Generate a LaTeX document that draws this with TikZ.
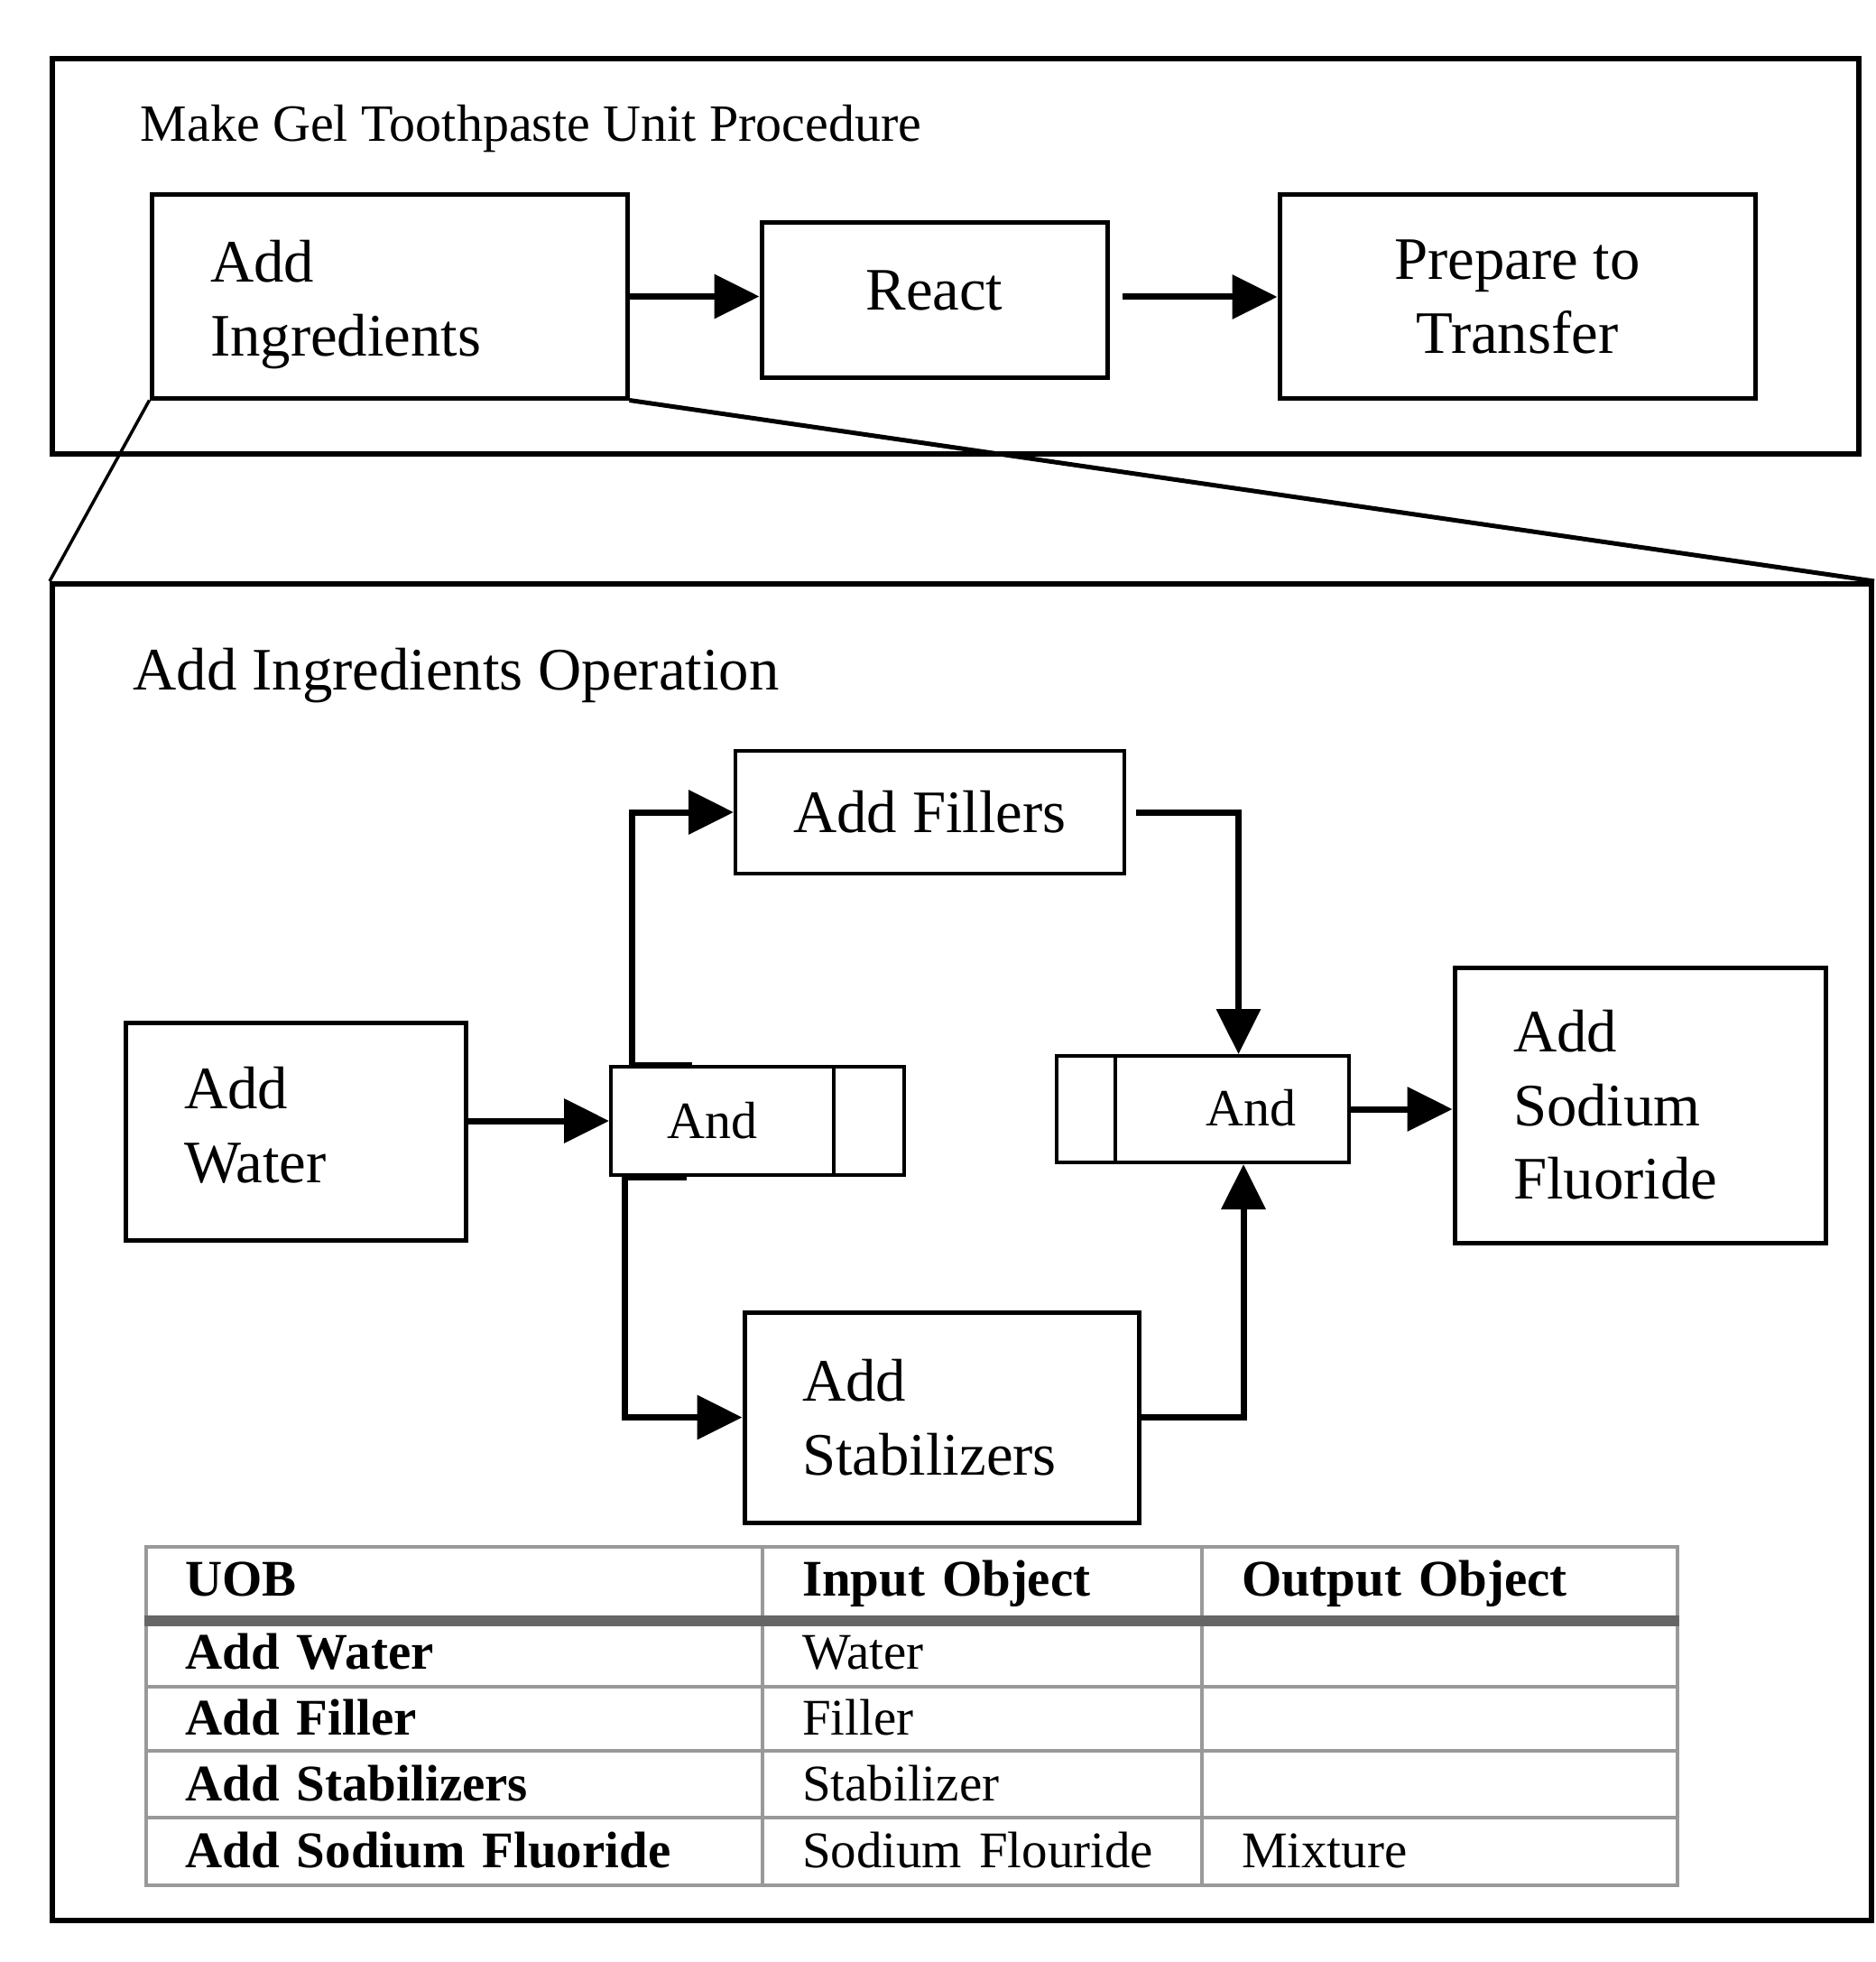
\documentclass[tikz,border=0pt]{standalone}
\usepackage{fontspec}
\setmainfont{Liberation Serif}
\usepackage{tikz}
\usetikzlibrary{shapes,arrows.meta}

\newcommand{\boxfont}{\fontsize{19}{23.2}\selectfont}
\newcommand{\smallfont}{\fontsize{16.5}{20}\selectfont}
\newcommand{\tablefont}{\fontsize{16.2}{20}\selectfont}

\begin{document}
\begin{tikzpicture}[
      frame/.style = {
        rectangle, draw=black, line width=0.06cm, inner sep=0 },
      block/.style = {
        rectangle, draw=black, line width=0.05cm, font=\boxfont, align=center },
      block-left/.style = {
        rectangle, draw=black, line width=0.05cm, font=\boxfont, align=left,
        inner xsep=0.65cm },
      andbox/.style = {
        rectangle split, rectangle split horizontal, rectangle split parts=2,
        draw, line width=0.04cm, inner sep=0, anchor=west, font=\smallfont },
      line/.style = { draw, line width=0.07cm,
        -{Triangle[length=0.5cm, width=0.48cm]} },
      stub/.style = { draw, line width=0.07cm },
      zoomline/.style = { draw, line width=0.05cm },
      cell/.style = {
        rectangle, draw=black!40, line width=0.04cm, anchor=north west,
        inner xsep=0.44cm, inner ysep=0, align=left, font=\tablefont,
        text height=0.38cm, text depth=0.1cm }]
    \useasboundingbox (0,0) rectangle (20.78,-21.74);
    % unit procedure
    \node [frame, minimum width=20.02cm, minimum height=4.38cm] (unitframe) at (10.59,-2.84) {};
    \node [anchor=west, inner sep=0, font=\smallfont] (unittitle) at (1.55,-1.43)
    {Make Gel Toothpaste Unit Procedure};
    \node [block-left, text width=3.97cm, text depth=0.78cm, minimum height=2.25cm] (ingredients) at (4.315,-3.285) {Add\\Ingredients};
    \node [block, text depth=0.22cm, minimum width=3.83cm, minimum height=1.72cm] (react) at (10.355,-3.33) {React};
    \node [block, minimum width=5.27cm, minimum height=2.26cm] (prepare) at (16.815,-3.29) {Prepare to\\Transfer};
    \draw[line] (ingredients.east) -- (react.west |- ingredients.east);
    \draw[line, shorten <=0.14cm] (react.east |- prepare.west) -- (prepare.west);
    % operation
    \node [frame, minimum width=20.16cm, minimum height=14.81cm] (opframe) at (10.66,-13.875) {};
    \draw[zoomline, line width=0.035cm] (ingredients.south west) -- (opframe.north west);
    \draw[zoomline] (ingredients.south east) -- (opframe.north east);
    \node [anchor=west, inner sep=0, font=\boxfont] (optitle) at (1.47,-7.49) {Add Ingredients Operation};
    \node [block, line width=0.04cm, minimum width=4.31cm, minimum height=1.36cm] (fillers) at (10.305,-9.0) {Add Fillers};
    \node [block-left, text width=2.47cm, text depth=0.96cm, minimum height=2.41cm] (water) at (3.275,-12.535) {Add\\Water};
    \node [andbox] (and1) at (6.75,-12.42)
    {\makebox[2.45cm]{\rule[-0.41cm]{0pt}{1.2cm}And\hspace{0.2cm}}
     \nodepart{two}\makebox[0.76cm]{\rule[-0.41cm]{0pt}{1.2cm}}};
    \node [andbox] (and2) at (11.69,-12.29)
    {\makebox[0.63cm]{\rule[-0.41cm]{0pt}{1.18cm}}
     \nodepart{two}\makebox[2.57cm]{\rule[-0.41cm]{0pt}{1.18cm}\hspace{0.4cm}And}};
    \node [block-left, text width=2.81cm, minimum height=3.05cm] (sodium) at (18.175,-12.245) {Add\\Sodium\\Fluoride};
    \node [block-left, inner xsep=0.64cm, text width=3.09cm, minimum height=2.33cm] (stabilizers) at (10.435,-15.705) {Add\\Stabilizers};
    % connect all nodes defined above
    \draw[line] (water.east |- and1.west) -- (and1.west);
    \draw[stub] ([xshift=0.25cm]and1.north west) -- ([xshift=0.92cm]and1.north west);
    \draw[line] ([xshift=0.25cm]and1.north west) |- (fillers.west);
    \draw[stub] ([xshift=0.17cm]and1.south west) -- ([xshift=0.86cm]and1.south west);
    \draw[line] ([xshift=0.17cm]and1.south west) |- (stabilizers.west);
    \draw[line, shorten <=0.11cm] (fillers.east) -| ([xshift=2.035cm]and2.north west);
    \draw[line] (stabilizers.east) -| ([xshift=2.09cm]and2.south west);
    \draw[line] (and2.east) -- (and2.east -| sodium.west);
    % table
    \node [cell, text width=5.95cm, minimum height=0.8cm, font=\tablefont\bfseries] (uob) at (1.595,-17.12) {UOB};
    \node [cell, text width=3.99cm, minimum height=0.8cm, font=\tablefont\bfseries] (inhead) at (8.43,-17.12) {Input Object};
    \node [cell, text width=4.39cm, minimum height=0.8cm, font=\tablefont\bfseries] (outhead) at (13.3,-17.12) {Output Object};
    \foreach \r/\y/\h/\uob/\inp/\outp in {
        1/17.92/0.745/Add Water/Water/{},
        2/18.665/0.715/Add Filler/Filler/{},
        3/19.38/0.74/Add Stabilizers/Stabilizer/{},
        4/20.12/0.75/Add Sodium Fluoride/Sodium Flouride/Mixture} {
      \node [cell, text height=0.46cm, text width=5.95cm, minimum height=\h cm, font=\tablefont\bfseries] (uob-\r) at (1.595,-\y) {\mbox{\uob}};
      \node [cell, text height=0.46cm, text width=3.99cm, minimum height=\h cm] (in-\r) at (8.43,-\y) {\mbox{\inp}};
      \node [cell, text height=0.46cm, text width=4.39cm, minimum height=\h cm] (out-\r) at (13.3,-\y) {\mbox{\outp}};
    }
    \draw[line width=0.12cm, black!60] (uob.south west) -- (outhead.south east);
\end{tikzpicture}
\end{document}
